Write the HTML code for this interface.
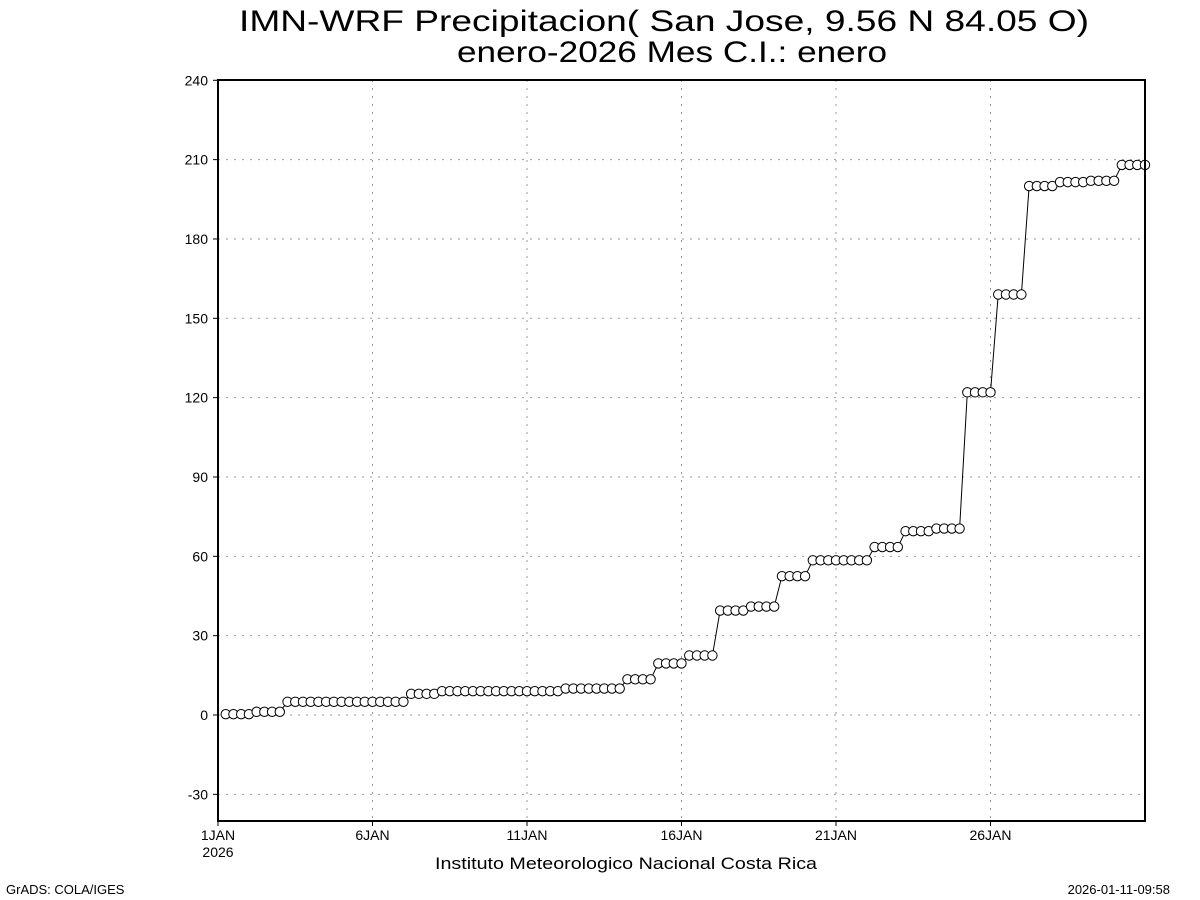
<!DOCTYPE html>
<html><head><meta charset="utf-8"><style>
body{margin:0;background:#fff}
svg{display:block}
text{font-family:"Liberation Sans",sans-serif;fill:#000}
</style></head><body>
<svg id="s" width="1200" height="900" xmlns="http://www.w3.org/2000/svg">
<rect width="1200" height="900" fill="#fff"/>
<text x="664" y="31" font-size="30" text-anchor="middle" textLength="850" lengthAdjust="spacingAndGlyphs">IMN-WRF  Precipitacion( San Jose, 9.56  N 84.05  O)</text>
<text x="672" y="62" font-size="30" text-anchor="middle" textLength="430" lengthAdjust="spacingAndGlyphs">enero-2026 Mes C.I.: enero</text>
<g id="grid" stroke="#999" stroke-width="1" stroke-dasharray="2,6"></g>
<g id="lab" font-size="14"></g>
<polyline id="ln" fill="none" stroke="#000" stroke-width="1"/>
<g id="pts" fill="#fff" stroke="#000" stroke-width="1"></g>
<rect x="218" y="80" width="927" height="741" fill="none" stroke="#000" stroke-width="2"/>
<text x="626" y="869" font-size="17" text-anchor="middle" textLength="382" lengthAdjust="spacingAndGlyphs">Instituto Meteorologico Nacional Costa Rica</text>
<text x="6" y="894" font-size="13">GrADS: COLA/IGES</text>
<text x="1170" y="894" font-size="13" text-anchor="end">2026-01-11-09:58</text>
</svg>
<script>
var NS="http://www.w3.org/2000/svg";
function el(t,a,p,txt){var e=document.createElementNS(NS,t);for(var k in a)e.setAttribute(k,a[k]);if(txt!==undefined)e.textContent=txt;document.getElementById(p).appendChild(e);return e;}
function Y(v){return 715-v*2.6446;}
function X(i){return 218+i*7.725;}
for(var v=-30;v<=240;v+=30){var y=Y(v);
 if(v<240)el('line',{x1:218,x2:1145,y1:y,y2:y},'grid');
 el('line',{x1:213,x2:218,y1:y,y2:y,stroke:'#000'},'lab');
 el('text',{x:208,y:y+5,'text-anchor':'end'},'lab',v);}
var days=[1,6,11,16,21,26];
days.forEach(function(d){var x=218+(d-1)*30.9;
 if(d>1)el('line',{x1:x,x2:x,y1:80,y2:821},'grid');
 el('line',{x1:x,x2:x,y1:821,y2:826,stroke:'#000'},'lab');
 el('text',{x:x,y:840,'text-anchor':'middle'},'lab',d+'JAN');});
el('text',{x:218,y:857,'text-anchor':'middle'},'lab','2026');
var seg=[[1,4,0.3],[5,8,1.2],[9,24,5],[25,28,8],[29,44,9],[45,52,10],[53,56,13.5],[57,60,19.5],[61,64,22.5],[65,68,39.5],[69,72,41],[73,76,52.5],[77,84,58.5],[85,88,63.5],[89,92,69.5],[93,96,70.5],[97,100,122],[101,104,159],[105,108,200],[109,112,201.5],[113,116,202],[117,120,208]];
var pts=[];
seg.forEach(function(s){for(var i=s[0];i<=s[1];i++)pts.push([X(i),Y(s[2])]);});
document.getElementById('ln').setAttribute('points',pts.map(function(p){return p.join(',')}).join(' '));
pts.forEach(function(p){if(p[0]<=1146)el('circle',{cx:p[0],cy:p[1],r:4.7},'pts');});
</script>
</body></html>
